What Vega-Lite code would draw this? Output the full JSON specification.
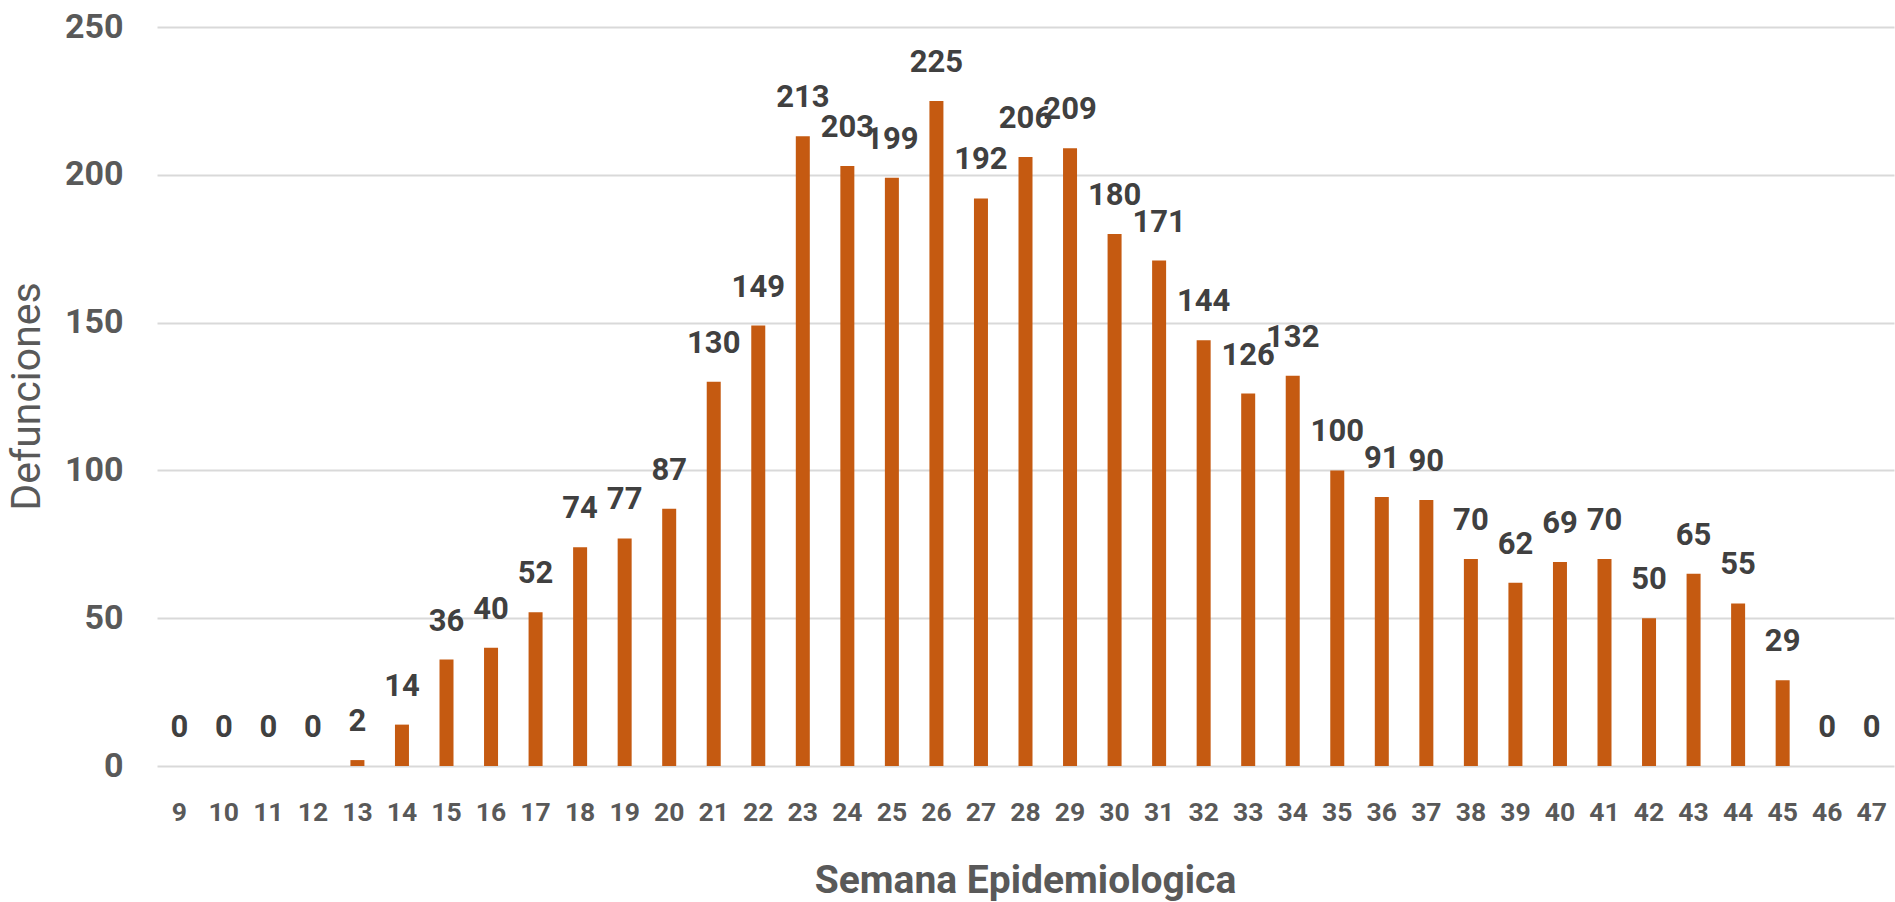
{
  "$schema": "https://vega.github.io/schema/vega-lite/v6.json",
  "autosize": "none",
  "width": 1737,
  "height": 739,
  "padding": {"left": 157, "top": 27, "right": 1, "bottom": 136},
  "background": "white",
  "data": {
    "values": [
      {"semana": 9, "defunciones": 0},
      {"semana": 10, "defunciones": 0},
      {"semana": 11, "defunciones": 0},
      {"semana": 12, "defunciones": 0},
      {"semana": 13, "defunciones": 2},
      {"semana": 14, "defunciones": 14},
      {"semana": 15, "defunciones": 36},
      {"semana": 16, "defunciones": 40},
      {"semana": 17, "defunciones": 52},
      {"semana": 18, "defunciones": 74},
      {"semana": 19, "defunciones": 77},
      {"semana": 20, "defunciones": 87},
      {"semana": 21, "defunciones": 130},
      {"semana": 22, "defunciones": 149},
      {"semana": 23, "defunciones": 213},
      {"semana": 24, "defunciones": 203},
      {"semana": 25, "defunciones": 199},
      {"semana": 26, "defunciones": 225},
      {"semana": 27, "defunciones": 192},
      {"semana": 28, "defunciones": 206},
      {"semana": 29, "defunciones": 209},
      {"semana": 30, "defunciones": 180},
      {"semana": 31, "defunciones": 171},
      {"semana": 32, "defunciones": 144},
      {"semana": 33, "defunciones": 126},
      {"semana": 34, "defunciones": 132},
      {"semana": 35, "defunciones": 100},
      {"semana": 36, "defunciones": 91},
      {"semana": 37, "defunciones": 90},
      {"semana": 38, "defunciones": 70},
      {"semana": 39, "defunciones": 62},
      {"semana": 40, "defunciones": 69},
      {"semana": 41, "defunciones": 70},
      {"semana": 42, "defunciones": 50},
      {"semana": 43, "defunciones": 65},
      {"semana": 44, "defunciones": 55},
      {"semana": 45, "defunciones": 29},
      {"semana": 46, "defunciones": 0},
      {"semana": 47, "defunciones": 0}
    ]
  },
  "config": {
    "view": {"stroke": null},
    "font": "Roboto"
  },
  "encoding": {
    "x": {
      "field": "semana",
      "type": "ordinal",
      "sort": null,
      "scale": {"paddingInner": 0, "paddingOuter": 0},
      "axis": {
        "title": "Semana Epidemiologica",
        "labelAngle": 0,
        "labelFont": "Roboto",
        "labelFontWeight": "bold",
        "labelFontSize": 26.5,
        "labelColor": "#595959",
        "labelBaseline": "middle",
        "labelPadding": 46,
        "ticks": false,
        "tickSize": 0,
        "domain": false,
        "grid": false,
        "titleFont": "Roboto",
        "titleFontWeight": "bold",
        "titleFontSize": 39,
        "titleColor": "#595959",
        "titleX": 868,
        "titleY": 126,
        "titleAlign": "center",
        "titleBaseline": "alphabetic"
      }
    },
    "y": {
      "field": "defunciones",
      "type": "quantitative",
      "scale": {"domain": [0, 250], "nice": false, "zero": true},
      "axis": {
        "title": "Defunciones",
        "values": [0, 50, 100, 150, 200, 250],
        "labelFont": "Roboto",
        "labelFontWeight": "bold",
        "labelFontSize": 34,
        "labelColor": "#595959",
        "labelPadding": 34,
        "labelBaseline": "middle",
        "ticks": false,
        "tickSize": 0,
        "domain": false,
        "grid": true,
        "gridColor": "#D9D9D9",
        "gridWidth": 2,
        "titleFont": "Roboto",
        "titleFontWeight": "normal",
        "titleFontSize": 41,
        "titleColor": "#595959",
        "titleAngle": -90,
        "titleX": -130,
        "titleY": 369,
        "titleAlign": "center",
        "titleBaseline": "middle"
      }
    }
  },
  "layer": [
    {
      "mark": {"type": "bar", "color": "#C55A11", "size": 14}
    },
    {
      "mark": {
        "type": "text",
        "font": "Roboto",
        "fontWeight": "bold",
        "fontSize": 31,
        "color": "#404040",
        "baseline": "alphabetic",
        "align": "center",
        "dy": -29
      },
      "encoding": {
        "text": {"field": "defunciones", "type": "quantitative"}
      }
    }
  ]
}
